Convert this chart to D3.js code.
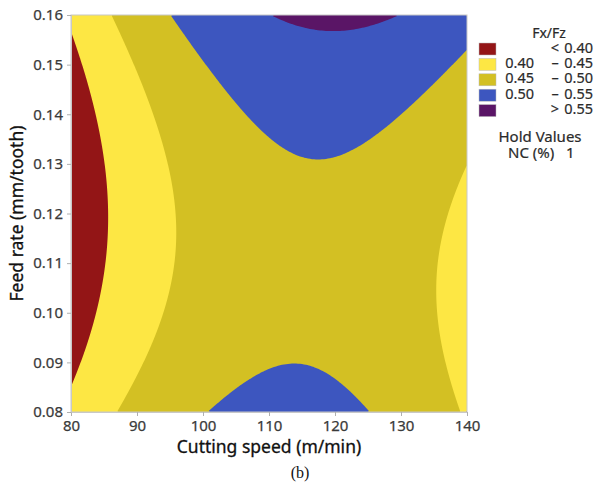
<!DOCTYPE html>
<html>
<head>
<meta charset="utf-8">
<script src="https://cdn.jsdelivr.net/npm/d3@7"></script>
<style>
  body { margin: 0; background: #fff; }
  svg { display: block; }
</style>
</head>
<body>
<div id="chart"></div>
<script>
// ==========================================================================
// DATA
// ==========================================================================

const speedTicks = [80, 90, 100, 110, 120, 130, 140];                       // m/min
const feedTicks = [0.08, 0.09, 0.10, 0.11, 0.12, 0.13, 0.14, 0.15, 0.16];  // mm/tooth

// contour breaks of Fx/Fz and their legend rows
const levels = [0.40, 0.45, 0.50, 0.55];
const bandColors = ['#931516', '#FDE744', '#D3C023', '#3D56BF', '#5A1566'];
const bandLow = ['', '0.40', '0.45', '0.50', ''];
const bandSign = ['<', '–', '–', '–', '>'];
const bandHigh = ['0.40', '0.45', '0.50', '0.55', '0.55'];

// response surface (coded units, NC held at 1 %)
const modelTerms = ['1', 'A', 'B', 'A*A', 'B*B', 'A*B'];
const modelCoef = [0.4865, 0.037, 0.018, -0.0855, 0.045, 0.02];

const holdLabel = ['NC (%)', '1'];

// ==========================================================================
// LAYOUT
// ==========================================================================

const W = 597, H = 484;
const plot = { left: 71, right: 467, top: 15, bottom: 412 };
const FONT = '"Noto Sans", "Open Sans", sans-serif';

const svg = d3.select('#chart').append('svg')
    .attr('width', W)
    .attr('height', H);

const xScale = d3.scaleLinear()
    .domain(d3.extent(speedTicks))
    .range([plot.left, plot.right]);

const yScale = d3.scaleLinear()
    .domain(d3.extent(feedTicks))
    .range([plot.bottom, plot.top]);

// coded variables -1..1
const [sMin, sMax] = d3.extent(speedTicks);
const [fMin, fMax] = d3.extent(feedTicks);
function predict(speed, feed) {
    const A = (speed - (sMin + sMax) / 2) / ((sMax - sMin) / 2);
    const B = (feed - (fMin + fMax) / 2) / ((fMax - fMin) / 2);
    const t = { '1': 1, 'A': A, 'B': B, 'A*A': A * A, 'B*B': B * B, 'A*B': A * B };
    return d3.sum(modelTerms, (k, i) => t[k] * modelCoef[i]);
}

// ==========================================================================
// CONTOURS
// ==========================================================================

const nx = 198, ny = 199;
const values = new Array(nx * ny);
for (let j = 0; j < ny; j++) {
    const feed = yScale.invert(plot.top + (j + 0.5) * (plot.bottom - plot.top) / ny);
    for (let i = 0; i < nx; i++) {
        const speed = xScale.invert(plot.left + (i + 0.5) * (plot.right - plot.left) / nx);
        values[j * nx + i] = predict(speed, feed);
    }
}

const contours = d3.contours().size([nx, ny]).thresholds(levels)(values);

const kx = (plot.right - plot.left) / nx, ky = (plot.bottom - plot.top) / ny;
const path = d3.geoPath(d3.geoTransform({
    point(x, y) { this.stream.point(plot.left + x * kx, plot.top + y * ky); }
}));

svg.append('clipPath').attr('id', 'clip')
    .append('rect')
    .attr('x', plot.left).attr('y', plot.top)
    .attr('width', plot.right - plot.left).attr('height', plot.bottom - plot.top);

const area = svg.append('g').attr('clip-path', 'url(#clip)');

// everything below the first break
area.append('rect')
    .attr('x', plot.left).attr('y', plot.top)
    .attr('width', plot.right - plot.left).attr('height', plot.bottom - plot.top)
    .attr('fill', bandColors[0]);

area.selectAll('path.band')
    .data(contours)
    .enter().append('path')
    .attr('class', 'band')
    .attr('d', path)
    .attr('fill', (d, i) => bandColors[i + 1]);

// frame
svg.append('rect')
    .attr('x', plot.left).attr('y', plot.top)
    .attr('width', plot.right - plot.left).attr('height', plot.bottom - plot.top)
    .attr('fill', 'none')
    .attr('stroke', '#c8c8c8')
    .attr('stroke-width', 1);

// ==========================================================================
// AXES
// ==========================================================================

const xAxis = svg.append('g')
    .attr('transform', `translate(0,${plot.bottom})`)
    .call(d3.axisBottom(xScale).tickValues(speedTicks).tickSize(4).tickSizeOuter(0).tickPadding(4));

const yAxis = svg.append('g')
    .attr('transform', `translate(${plot.left},0)`)
    .call(d3.axisLeft(yScale).tickValues(feedTicks).tickFormat(d3.format('.2f')).tickSize(4).tickSizeOuter(0).tickPadding(4));

[xAxis, yAxis].forEach(g => {
    g.select('.domain').attr('stroke', '#c8c8c8');
    g.selectAll('.tick line').attr('stroke', '#b0b0b0');
    g.selectAll('.tick text')
        .attr('fill', '#3a3a3a')
        .attr('stroke', '#3a3a3a')
        .attr('stroke-width', 0.25)
        .style('font-family', FONT)
        .style('font-size', '15px');
});

svg.append('text')
    .attr('x', (plot.left + plot.right) / 2)
    .attr('y', 453)
    .attr('text-anchor', 'middle')
    .style('font-family', FONT)
    .style('font-size', '17.5px')
    .attr('fill', '#111')
    .attr('stroke', '#111')
    .attr('stroke-width', 0.3)
    .text('Cutting speed (m/min)');

svg.append('text')
    .attr('transform', `translate(23,${(plot.top + plot.bottom) / 2}) rotate(-90)`)
    .attr('text-anchor', 'middle')
    .style('font-family', FONT)
    .style('font-size', '17.5px')
    .attr('fill', '#111')
    .attr('stroke', '#111')
    .attr('stroke-width', 0.3)
    .text('Feed rate (mm/tooth)');

svg.append('text')
    .attr('x', 300)
    .attr('y', 478)
    .attr('text-anchor', 'middle')
    .style('font-family', '"Liberation Serif", "Times New Roman", serif')
    .style('font-size', '16px')
    .attr('fill', '#111')
    .text('(b)');

// ==========================================================================
// LEGEND
// ==========================================================================

const legend = svg.append('g')
    .style('font-family', FONT)
    .style('font-size', '14.5px')
    .attr('fill', '#2a2a2a')
    .attr('stroke', '#2a2a2a')
    .attr('stroke-width', 0.2);

legend.append('text')
    .attr('x', 549).attr('y', 38)
    .attr('text-anchor', 'middle')
    .style('font-size', '14px')
    .text('Fx/Fz');

const rows = legend.selectAll('.legend-item')
    .data(bandColors)
    .enter().append('g')
    .attr('class', 'legend-item')
    .attr('transform', (d, i) => `translate(0,${43 + i * 15.4})`);

rows.append('rect')
    .attr('x', 479).attr('width', 17).attr('height', 12)
    .attr('fill', d => d)
    .attr('stroke', '#bbb').attr('stroke-width', 0.5);

rows.append('text')
    .attr('x', 534).attr('y', 9.5)
    .attr('text-anchor', 'end')
    .text((d, i) => bandLow[i]);

rows.append('text')
    .attr('x', 555).attr('y', 9.5)
    .attr('text-anchor', 'middle')
    .text((d, i) => bandSign[i]);

rows.append('text')
    .attr('x', 593).attr('y', 9.5)
    .attr('text-anchor', 'end')
    .text((d, i) => bandHigh[i]);

legend.append('text')
    .attr('x', 540).attr('y', 142)
    .attr('text-anchor', 'middle')
    .style('font-size', '15px')
    .text('Hold Values');

legend.append('text')
    .attr('x', 508).attr('y', 158)
    .style('font-size', '15px')
    .text(holdLabel[0]);

legend.append('text')
    .attr('x', 566).attr('y', 158)
    .style('font-size', '15px')
    .text(holdLabel[1]);
</script>
</body>
</html>
